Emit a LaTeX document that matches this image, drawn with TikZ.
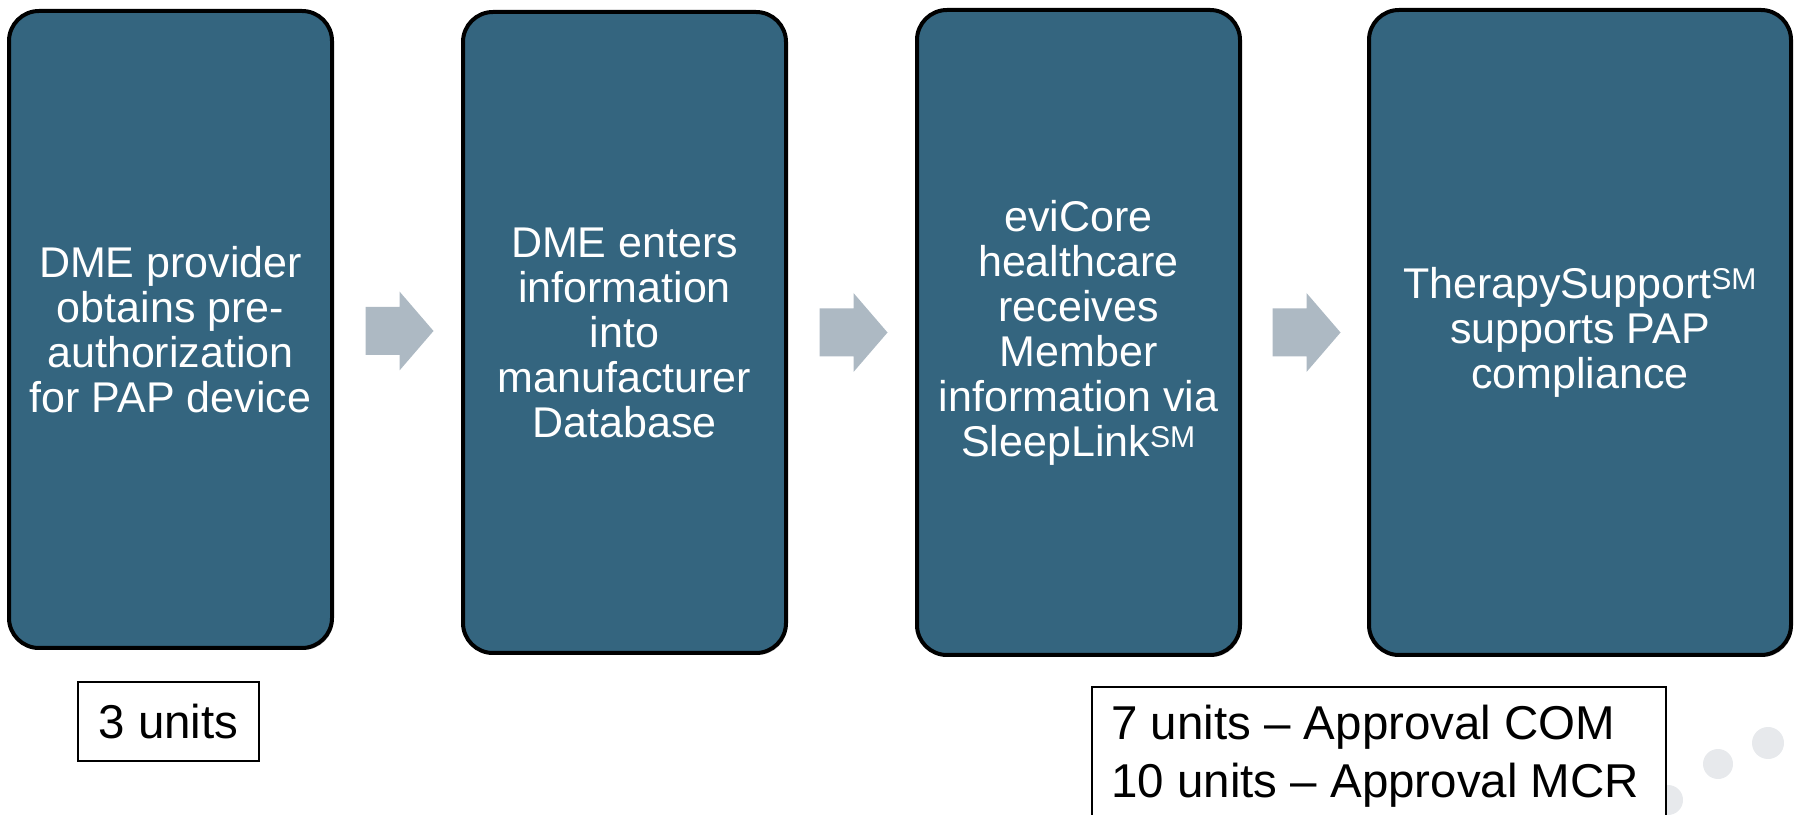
\documentclass[tikz,border=0pt]{standalone}
\usepackage{fontspec}
\setmainfont{Liberation Sans}
\usetikzlibrary{calc,shadows}
\definecolor{boxblue}{HTML}{34657F}
\definecolor{arrowgrey}{HTML}{ADB9C3}
\definecolor{dotgrey}{HTML}{E7E9EC}
\tikzset{
  stepbox/.style={draw=black, line width=4pt, fill=boxblue, rounded corners=30pt,
    text=white, align=center, font=\fontsize{43}{45}\selectfont, inner sep=0pt,
    drop shadow={shadow xshift=1.5pt, shadow yshift=-2pt, fill=black!45, opacity=0.6}},
  unitbox/.style={draw=black, line width=1.6pt, fill=white, inner sep=0pt},
  unittext/.style={font=\fontsize{47.5}{58}\selectfont, inner sep=0pt, align=left},
  blockarrow/.style={fill=arrowgrey},
  greydot/.style={fill=dotgrey}
}
\begin{document}
\begin{tikzpicture}[x=1pt,y=1pt]
\useasboundingbox (0,0) rectangle (1796,814);
\clip (0,0) rectangle (1796,814);
% process boxes
\node[stepbox, minimum width=323, minimum height=637] (b1) at (170.5,484.5)
  {DME provider\\obtains pre-\\authorization\\for PAP device};
\node[stepbox, minimum width=323, minimum height=641] (b2) at (624.5,481.5)
  {DME enters\\information\\into\\manufacturer\\Database};
\node[stepbox, minimum width=323, minimum height=645] (b3) at (1078.5,481.5)
  {eviCore\\healthcare\\receives\\Member\\information via\\SleepLink\textsuperscript{SM}};
\node[stepbox, minimum width=422, minimum height=645] (b4) at (1580,481.5)
  {TherapySupport\textsuperscript{SM}\\supports PAP\\compliance};
% block arrows between boxes
\coordinate (m1) at ($($(b1.east)!0.5!(b2.west)$)+(2,0)$);
\coordinate (m2) at ($($(b2.east)!0.5!(b3.west)$)+(2,0)$);
\coordinate (m3) at ($($(b3.east)!0.5!(b4.west)$)+(2,0)$);
\foreach \m in {m1,m2,m3}{
  \fill[blockarrow] ($(\m)+(-34,24)$) -- ($(\m)+(0,24)$) -- ($(\m)+(0,39.5)$)
    -- ($(\m)+(34,0)$) -- ($(\m)+(0,-39.5)$) -- ($(\m)+(0,-24)$)
    -- ($(\m)+(-34,-24)$) -- cycle;
}
% decorative dots
\fill[greydot] (1768,71) circle (16);
\fill[greydot] (1718,50) circle (15);
\fill[greydot] (1668,14) circle (15);
% unit boxes
\node[unitbox, unittext, minimum width=181, minimum height=79] (u1) at (168.5,92.5) {3 units};
\node[unitbox, anchor=north west, minimum width=574, minimum height=160] (u2) at (1091,128) {};
\node[unittext, anchor=north west] (u2t) at ($(u2.north west)+(20,-19)$)
  {7 units – Approval COM\\10 units – Approval MCR};
\end{tikzpicture}
\end{document}
